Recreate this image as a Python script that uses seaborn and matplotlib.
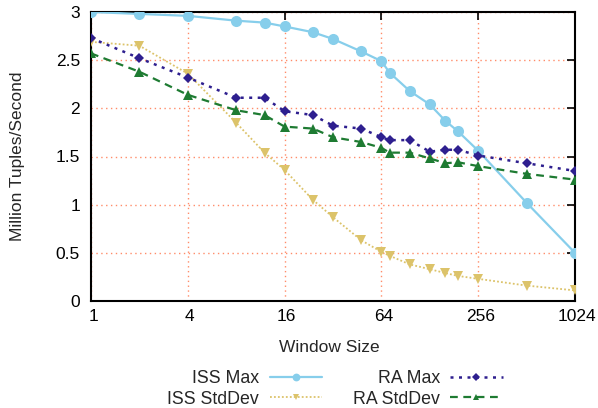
import numpy as np
import pandas as pd
import matplotlib
matplotlib.use("Agg")
import matplotlib.pyplot as plt
import matplotlib.transforms as mtransforms
import seaborn as sns

window = [1, 2, 4, 8, 12, 16, 24, 32, 48, 64, 72, 96, 128, 160, 192, 256, 512, 1024]
iss_max = [3.00, 2.98, 2.96, 2.91, 2.89, 2.85, 2.79, 2.72, 2.59, 2.49, 2.37, 2.18, 2.04, 1.87, 1.76, 1.56, 1.02, 0.50]
iss_std = [2.69, 2.65, 2.36, 1.85, 1.54, 1.36, 1.05, 0.87, 0.63, 0.51, 0.47, 0.38, 0.33, 0.29, 0.26, 0.23, 0.16, 0.11]
ra_max = [2.73, 2.52, 2.32, 2.11, 2.11, 1.97, 1.93, 1.82, 1.79, 1.70, 1.67, 1.67, 1.55, 1.57, 1.57, 1.51, 1.43, 1.35]
ra_std = [2.57, 2.38, 2.14, 1.98, 1.93, 1.81, 1.79, 1.70, 1.65, 1.59, 1.54, 1.54, 1.48, 1.43, 1.44, 1.40, 1.32, 1.26]
xticks = [1, 4, 16, 64, 256, 1024]
yticks = [0, 0.5, 1, 1.5, 2, 2.5, 3]
ytick_labels = ["0", "0.5", "1", "1.5", "2", "2.5", "3"]

sns.set_style("white")
plt.rcParams["font.family"] = ["Liberation Sans", "DejaVu Sans"]
FS = 12.5

fig = plt.figure(figsize=(5.98, 4.08), dpi=100)
ax = fig.add_axes([91/598, 1-301/408, (575-91)/598, (301-12)/408])

series = [
    ("ISS Max", iss_max, "#87ceeb", "-", "o", 8.0, 1.6),
    ("ISS StdDev", iss_std, "#dcc36a", (0, (1, 1.2)), "v", 6.5, 1.3),
    ("RA Max", ra_max, "#2e1f8f", (0, (1.2, 2.2)), "D", 5.5, 1.8),
    ("RA StdDev", ra_std, "#1e7b32", (0, (3.5, 2.5)), "^", 6.5, 1.6),
]

for name, vals, col, ls, mk, ms, lw in series:
    df = pd.DataFrame({"x": window, "y": vals})
    sns.lineplot(data=df, x="x", y="y", ax=ax, color=col, linestyle=ls,
                 marker=mk, markersize=ms, markeredgewidth=0, linewidth=lw,
                 label=name, legend=False, zorder=3)

ax.set_xscale("log", base=2)
ax.set_xlim(1, 1024)
ax.set_ylim(0, 3)
ax.set_xticks(xticks)
ax.set_xticklabels([str(v) for v in xticks])
ax.xaxis.set_minor_locator(matplotlib.ticker.NullLocator())
ax.set_yticks(yticks)
ax.set_yticklabels(ytick_labels)

ax.grid(True, which="major", color="#ff8c69", linestyle=(0, (1, 2.5)), linewidth=1.0, zorder=0)
for s in ax.spines.values():
    s.set_color("black")
    s.set_linewidth(1.5)
    s.set_visible(True)
ax.tick_params(axis="both", which="major", direction="in", length=6, width=1.2,
               top=True, right=True, labelsize=FS, colors="black")
ax.tick_params(axis="x", pad=6)
ax.tick_params(axis="y", pad=8)

for lbl in ax.xaxis.get_majorticklabels():
    lbl.set_transform(lbl.get_transform() + mtransforms.ScaledTranslation(2/100, 0, fig.dpi_scale_trans))

ax.set_xlabel("Window Size", fontsize=FS)
ax.set_ylabel("Million Tuples/Second", fontsize=FS)
ax.xaxis.set_label_coords((329-91)/484, (301-347)/289)
ax.xaxis.label.set_va("center")
ax.yaxis.set_label_coords((18-91)/484, 0.5)
ax.yaxis.label.set_va("center")

handles, labels = ax.get_legend_handles_labels()
fig.legend(handles, labels, ncol=2, markerfirst=False, frameon=False,
           loc="center", bbox_to_anchor=(335/598, 1-389/408), fontsize=12.8,
           handlelength=2.93, labelspacing=0.18, columnspacing=1.74,
           handletextpad=0.6, borderpad=0, markerscale=0.7)

fig.savefig("out.png", dpi=100)
